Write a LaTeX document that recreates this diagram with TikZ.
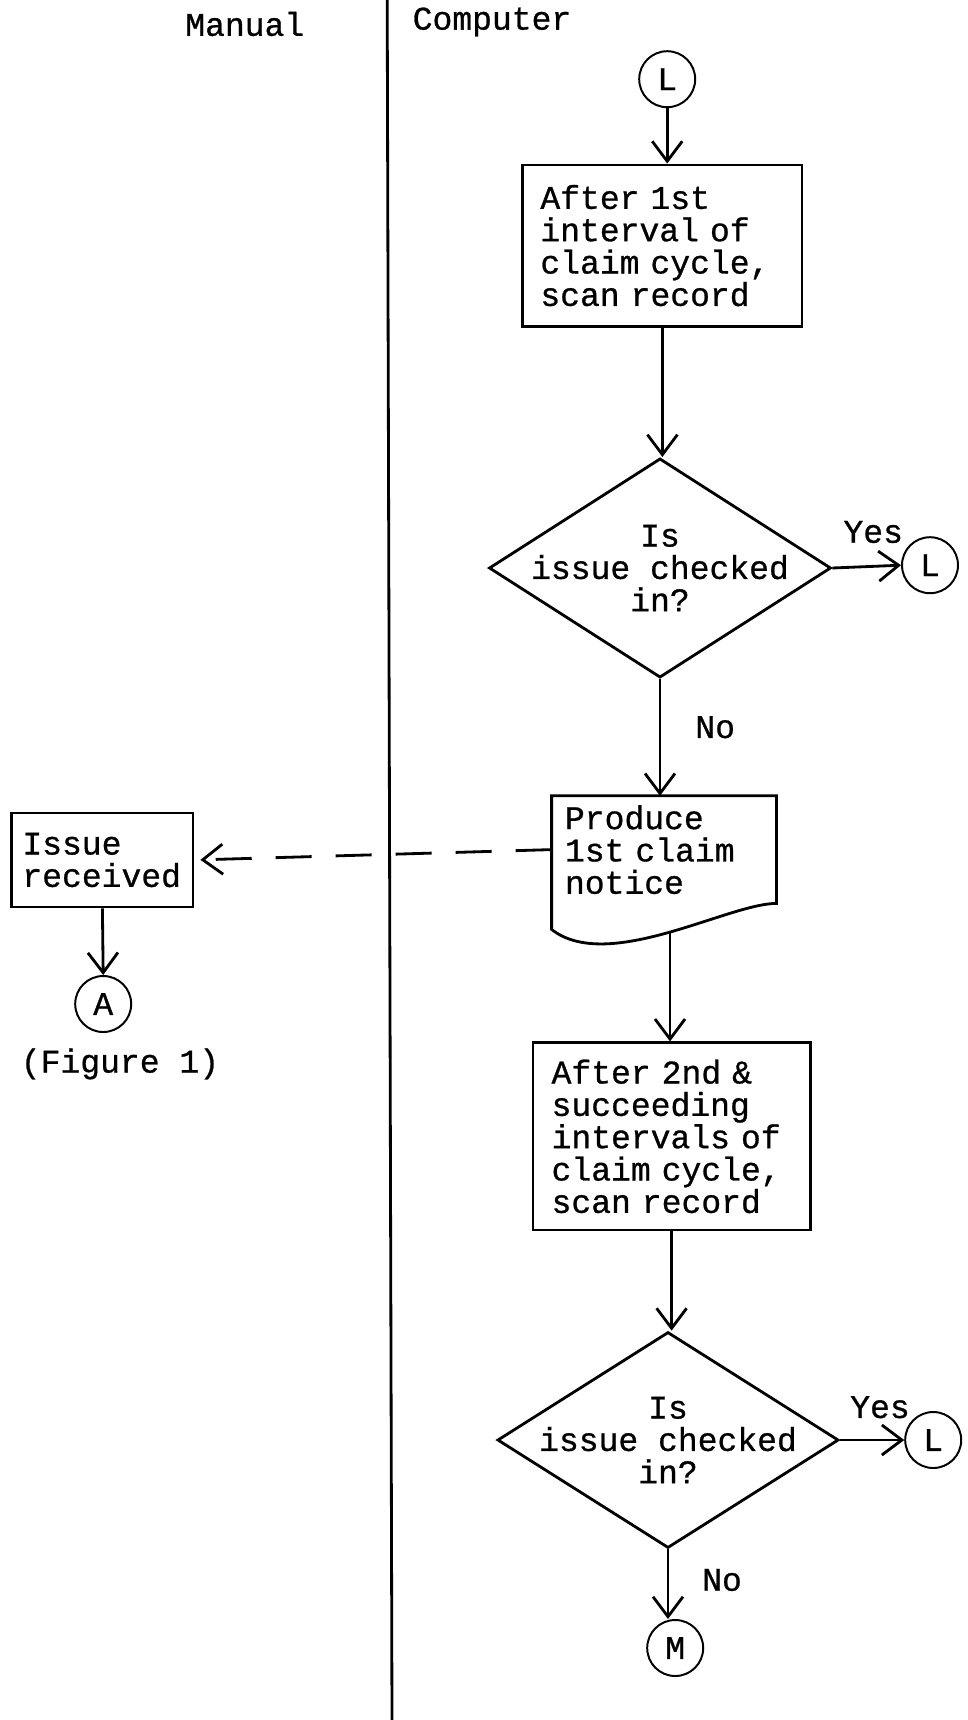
\documentclass[tikz,border=0pt]{standalone}
\usepackage{fontspec}
\setmonofont{Liberation Mono}[FakeBold=0.8]
\usetikzlibrary{positioning, arrows.meta, shapes.geometric}
\newcommand{\flowfont}{\fontsize{23.5}{23}\selectfont\ttfamily}

\begin{document}
\begin{tikzpicture}[
    line width=2pt,
    every node/.style = {font=\flowfont},
    proc_box/.style = {draw, rectangle, align=left, inner xsep=0.44cm},
    doc_box/.style = {rectangle, align=left, inner xsep=0.3cm},
    decision/.style = {draw, diamond, inner sep=0pt},
    connector/.style = {draw, circle, minimum size=1.4cm, inner sep=0pt, line width=1.4pt},
    flow_arrow/.style = {-{Straight Barb[length=0.5cm, width=0.75cm]}},
    notice_arrow/.style = {flow_arrow, dash pattern=on 0.9cm off 0.6cm}
]
\useasboundingbox (0,0) rectangle (24.2,-43);

% --- Headers and lane divider ---
\node (manual_lbl) at (6.12,-0.6) {Manual};
\node (computer_lbl) at (12.3,-0.55) {Computer};
\coordinate (lane_top) at (9.68,0);
\coordinate (lane_bot) at (9.8,-43);
\draw (lane_top) -- (lane_bot);

% --- First claim interval ---
\node[connector] (L_top) at (16.68,-1.98) {L};
\node[proc_box, minimum width=6.98cm, minimum height=4.03cm, text width=6.1cm] (scan1) at (16.56,-6.14) {After 1st\\interval of\\claim cycle,\\scan record};
\node[decision, minimum width=8.55cm, minimum height=5.48cm, label={[align=center]center:Is\\issue checked\\in?}] (check1) at (16.5,-14.2) {};
\node[connector] (L_yes1) at (23.25,-14.13) {L};
\node (yes1) at (21.83,-13.3) {Yes};
\node (no1) at (17.88,-18.18) {No};

% --- Claim notice (document shape) ---
\node[doc_box, minimum width=5.55cm, minimum height=2.62cm, text width=4.95cm] (notice1) at (16.6,-21.24) {Produce\\1st claim\\notice};
\draw (notice1.north west) -- (notice1.north east) -- (notice1.south east) .. controls +(-1.2,0) and +(1.4,-1.1) .. ([yshift=-0.65cm]notice1.south west) -- cycle;
\coordinate (notice_out) at (16.75,-23.28);

% --- Manual side ---
\node[proc_box, minimum width=4.53cm, minimum height=2.35cm, text width=4.0cm, inner xsep=0.26cm] (received) at (2.56,-21.5) {Issue\\received};
\node[connector] (A_conn) at (2.58,-25.1) {A};
\node (fig_ref) at (3.0,-26.6) {(Figure 1)};

% --- Later claim intervals ---
\node[proc_box, minimum width=6.93cm, minimum height=4.68cm, text width=6.0cm, inner xsep=0.46cm] (scan2) at (16.79,-28.41) {After 2nd \&\\succeeding\\intervals of\\claim cycle,\\scan record};
\node[decision, minimum width=8.53cm, minimum height=5.4cm, label={[align=center]center:Is\\issue checked\\in?}] (check2) at (16.7,-36.0) {};
\node[connector] (L_yes2) at (23.33,-36.0) {L};
\node (yes2) at (22.0,-35.18) {Yes};
\node (no2) at (18.05,-39.5) {No};
\node[connector] (M_conn) at (16.88,-41.2) {M};

% --- Connectors ---
\draw[flow_arrow] (L_top.south) -- (L_top.south |- scan1.north);
\draw[flow_arrow] (scan1.south) -- (scan1.south |- check1.north);
\draw[flow_arrow] (check1.east) -- (L_yes1.west);
\draw[flow_arrow] (check1.south) -- (check1.south |- notice1.north);
\draw[notice_arrow, shorten >=0.15cm] (notice1.west) -- (received.east);
\draw[flow_arrow] (received.south) -- (A_conn.north);
\draw[flow_arrow] (notice_out) -- (notice_out |- scan2.north);
\draw[flow_arrow] (scan2.south) -- (scan2.south |- check2.north);
\draw[flow_arrow] (check2.east) -- (L_yes2.west);
\draw[flow_arrow] (check2.south) -- (check2.south |- M_conn.north);

\end{tikzpicture}
\end{document}
